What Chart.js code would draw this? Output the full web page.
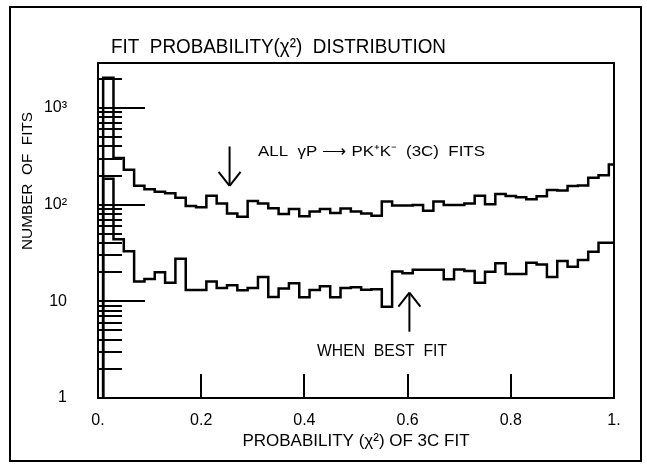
<!DOCTYPE html>
<html>
<head>
<meta charset="utf-8">
<script src="https://cdn.jsdelivr.net/npm/chart.js@4.4.1/dist/chart.umd.min.js"></script>
<style>
  html, body { margin: 0; padding: 0; background: #fff; }
  #wrap { width: 647px; height: 464px; }
</style>
</head>
<body>
<div id="wrap"><canvas id="c" width="647" height="464"></canvas></div>
<script>
// Histogram bin centres (bins 0.02 wide) of the fit probability
const binCenters = [
  0.00, 0.02, 0.04, 0.06, 0.08, 0.10, 0.12, 0.14, 0.16, 0.18,
  0.20, 0.22, 0.24, 0.26, 0.28, 0.30, 0.32, 0.34, 0.36, 0.38,
  0.40, 0.42, 0.44, 0.46, 0.48, 0.50, 0.52, 0.54, 0.56, 0.58,
  0.60, 0.62, 0.64, 0.66, 0.68, 0.70, 0.72, 0.74, 0.76, 0.78,
  0.80, 0.82, 0.84, 0.86, 0.88, 0.90, 0.92, 0.94, 0.96, 0.98,
  1.00
];

// Number of fits per bin: all gamma p -> p K+ K- (3C) fits
const allFits = [
  0.5, 2050, 303, 230, 157, 144, 136, 131, 118, 97,
  94, 124, 103, 81, 75, 109, 103, 92, 80, 90,
  76, 85, 90, 82, 91.5, 85, 81, 77, 108, 98,
  98, 99, 86.5, 108, 99, 99, 103, 124, 101, 129,
  123, 119, 114, 122, 142, 140, 156, 158, 190, 202,
  260
];

// Number of fits per bin when the 3C hypothesis is the best fit
const bestFit = [
  0.5, 185, 44, 33, 16, 17, 20, 15.6, 27.5, 13.1,
  13.1, 16, 13.7, 14.7, 13, 13.7, 17.8, 11.1, 13.6, 15.4,
  11, 13.1, 14.3, 11, 13.7, 14, 13.2, 13.3, 8.8, 20.4,
  19.5, 21.2, 21.2, 21.2, 16.9, 21.4, 20.6, 15.6, 20.2, 24.7,
  19.2, 19.2, 25, 24.1, 17.9, 26.1, 22.8, 26.7, 32.6, 40.4,
  40.4
];

// Axis ticks
const xTickValues = [0, 0.2, 0.4, 0.6, 0.8, 1];
const xTickLabels = ['0.', '0.2', '0.4', '0.6', '0.8', '1.'];
const yTickValues = [
  1, 2, 3, 4, 5, 6, 7, 8, 9,
  10, 20, 30, 40, 50, 60, 70, 80, 90,
  100, 200, 300, 400, 500, 600, 700, 800, 900,
  1000, 2000
];
const yTickLabels = { 1: '1', 10: '10', 100: '10²', 1000: '10³' };
const Y_MIN = 1;
const Y_MAX = 2920;

const FONT = "'Liberation Sans', Arial, sans-serif";
const INK = '#000';

// Text squeezed or stretched horizontally to a given width
function fitText(ctx, text, x, y, size, width, align, rotate) {
  ctx.save();
  ctx.font = size + 'px ' + FONT;
  ctx.textBaseline = 'middle';
  ctx.textAlign = 'left';
  ctx.fillStyle = INK;
  const w = ctx.measureText(text).width;
  const sx = width / w;
  ctx.translate(x, y);
  if (rotate) ctx.rotate(-Math.PI / 2);
  const x0 = align === 'center' ? -width / 2 : 0;
  ctx.translate(x0, 0);
  ctx.scale(sx, 1);
  ctx.fillText(text, 0, 0);
  ctx.restore();
}

function seg(ctx, x1, y1, x2, y2) {
  ctx.beginPath();
  ctx.moveTo(x1, y1);
  ctx.lineTo(x2, y2);
  ctx.stroke();
}

function arrow(ctx, x, yFrom, yTo) {
  const dir = yTo > yFrom ? -1 : 1;
  seg(ctx, x, yFrom, x, yTo);
  seg(ctx, x, yTo, x - 11, yTo + dir * 14);
  seg(ctx, x, yTo, x + 11, yTo + dir * 14);
}

const decorations = {
  id: 'decorations',
  beforeDraw(chart) {
    const ctx = chart.ctx;
    ctx.save();
    ctx.fillStyle = '#fff';
    ctx.fillRect(0, 0, chart.width, chart.height);
    ctx.strokeStyle = INK;
    ctx.lineWidth = 2;
    ctx.strokeRect(10, 7, 631, 454);
    ctx.restore();
  },
  afterDraw(chart) {
    const ctx = chart.ctx;
    const ca = chart.chartArea;
    const xs = chart.scales.x;
    const ys = chart.scales.y;
    ctx.save();
    ctx.strokeStyle = INK;
    ctx.lineWidth = 2;
    ctx.lineCap = 'butt';

    // plot frame
    ctx.strokeRect(ca.left, ca.top, ca.right - ca.left, ca.bottom - ca.top);

    // inward tick marks on the log axis: long at decades, short between
    ys.ticks.forEach(t => {
      if (t.value <= Y_MIN) return;
      const py = Math.round(ys.getPixelForValue(t.value));
      const len = yTickLabels[t.value] !== undefined ? 47 : 24;
      seg(ctx, ca.left, py, ca.left + len, py);
    });
    // inward tick marks on the probability axis
    xs.ticks.forEach(t => {
      if (t.value <= 0 || t.value >= 1) return;
      const px = Math.round(xs.getPixelForValue(t.value));
      seg(ctx, px, ca.bottom, px, ca.bottom - 24);
    });

    // arrows pointing at the two histograms
    arrow(ctx, xs.getPixelForValue(0.255), ys.getPixelForValue(400), ys.getPixelForValue(156));
    arrow(ctx, xs.getPixelForValue(0.6035), ys.getPixelForValue(4.85), ys.getPixelForValue(12.3));

    // captions
    fitText(ctx, 'FIT  PROBABILITY(χ²)  DISTRIBUTION', 111, 47, 20, 335, 'left');
    fitText(ctx, 'NUMBER  OF  FITS', 28, 181, 15, 138, 'center', true);
    fitText(ctx, 'ALL  γP ⟶ PK⁺K⁻  (3C)  FITS',
      xs.getPixelForValue(0.310), ys.getPixelForValue(351), 15, 227, 'left');
    fitText(ctx, 'WHEN  BEST  FIT',
      xs.getPixelForValue(0.4244), ys.getPixelForValue(2.99), 16, 130, 'left');
    ctx.restore();
  }
};

function histogram(values) {
  return {
    data: binCenters.map((x, i) => ({ x: x, y: values[i] })),
    stepped: 'middle',
    borderColor: INK,
    borderWidth: 2.5,
    borderJoinStyle: 'miter',
    pointRadius: 0,
    fill: false,
    tension: 0
  };
}

new Chart(document.getElementById('c'), {
  type: 'line',
  data: {
    datasets: [
      Object.assign(histogram(allFits), { label: 'ALL γP → PK⁺K⁻ (3C) FITS' }),
      Object.assign(histogram(bestFit), { label: 'WHEN BEST FIT' })
    ]
  },
  options: {
    responsive: false,
    devicePixelRatio: 1,
    animation: false,
    layout: { padding: { left: 0, right: 33, top: 63, bottom: 0 } },
    plugins: {
      legend: { display: false },
      tooltip: { enabled: false },
      title: { display: false }
    },
    scales: {
      x: {
        type: 'linear',
        position: 'bottom',
        min: 0,
        max: 1,
        afterFit(scale) { scale.height = 66; },
        afterBuildTicks(scale) { scale.ticks = xTickValues.map(v => ({ value: v })); },
        grid: { display: false, drawTicks: false },
        border: { display: false },
        ticks: {
          autoSkip: false,
          maxRotation: 0,
          padding: 13,
          color: INK,
          font: { family: FONT, size: 16 },
          callback: (v, i) => xTickLabels[i]
        },
        title: {
          display: true,
          text: 'PROBABILITY (χ²) OF 3C FIT',
          color: INK,
          font: { family: FONT, size: 17 },
          padding: { top: 0, bottom: 12 }
        }
      },
      y: {
        type: 'logarithmic',
        position: 'left',
        min: Y_MIN,
        max: Y_MAX,
        afterFit(scale) { scale.width = 98; },
        afterBuildTicks(scale) { scale.ticks = yTickValues.map(v => ({ value: v })); },
        grid: { display: false, drawTicks: false },
        border: { display: false },
        ticks: {
          autoSkip: false,
          padding: 31,
          color: INK,
          font: { family: FONT, size: 16 },
          callback: (v) => (yTickLabels[v] !== undefined ? yTickLabels[v] : '')
        }
      }
    }
  },
  plugins: [decorations]
});
</script>
</body>
</html>
